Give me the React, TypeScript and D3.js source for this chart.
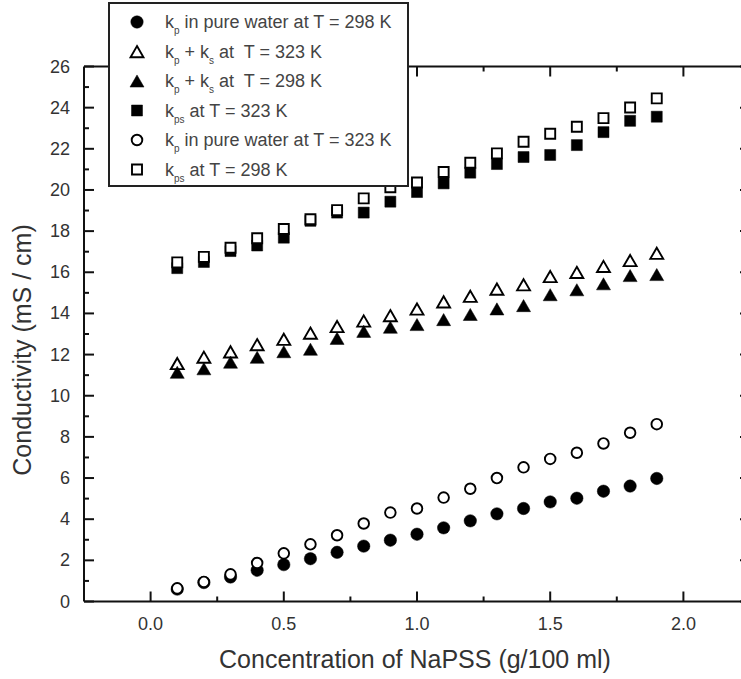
import React from "react";
import * as d3 from "d3";

const concentrations = [0.1, 0.2, 0.3, 0.4, 0.5, 0.6, 0.7, 0.8, 0.9, 1.0, 1.1, 1.2, 1.3, 1.4, 1.5, 1.6, 1.7, 1.8, 1.9];
const kpWater298 = [0.6, 0.92, 1.19, 1.52, 1.79, 2.08, 2.39, 2.69, 2.98, 3.27, 3.58, 3.92, 4.26, 4.52, 4.84, 5.02, 5.36, 5.61, 5.98];
const kpKs323 = [11.57, 11.88, 12.14, 12.49, 12.75, 13.05, 13.37, 13.64, 13.9, 14.22, 14.57, 14.84, 15.19, 15.4, 15.8, 16.0, 16.29, 16.58, 16.93];
const kpKs298 = [11.14, 11.31, 11.63, 11.87, 12.14, 12.26, 12.79, 13.13, 13.33, 13.46, 13.7, 13.95, 14.22, 14.38, 14.91, 15.15, 15.44, 15.84, 15.89];
const kps323 = [16.2, 16.5, 17.03, 17.3, 17.68, 18.5, 18.9, 18.9, 19.43, 19.9, 20.32, 20.84, 21.26, 21.6, 21.7, 22.18, 22.81, 23.36, 23.56];
const kpWater323 = [0.64, 0.95, 1.32, 1.87, 2.34, 2.78, 3.22, 3.79, 4.32, 4.52, 5.05, 5.48, 6.0, 6.52, 6.93, 7.23, 7.68, 8.2, 8.62];
const kps298 = [16.48, 16.75, 17.19, 17.65, 18.1, 18.58, 19.02, 19.59, 20.13, 20.36, 20.87, 21.32, 21.78, 22.34, 22.73, 23.07, 23.49, 24.01, 24.45];

const xMajorTicks = [0, 0.5, 1.0, 1.5, 2.0];
const xMinorTicks = [0.25, 0.75, 1.25, 1.75];
const yMajorTicks = [0, 2, 4, 6, 8, 10, 12, 14, 16, 18, 20, 22, 24, 26];
const yMinorTicks = [1, 3, 5, 7, 9, 11, 13, 15, 17, 19, 21, 23, 25];

type Shape = "circle" | "triangle" | "square";
interface SeriesDef { values: number[]; shape: Shape; filled: boolean; label: [string, string, string, string, string]; }
// label parts: main1, sub1, main2, sub2, rest
const series: SeriesDef[] = [
  { values: kpWater298, shape: "circle", filled: true, label: ["k", "p", " in pure water at T = 298 K", "", ""] },
  { values: kpKs323, shape: "triangle", filled: false, label: ["k", "p", " + k", "s", " at  T = 323 K"] },
  { values: kpKs298, shape: "triangle", filled: true, label: ["k", "p", " + k", "s", " at  T = 298 K"] },
  { values: kps323, shape: "square", filled: true, label: ["k", "ps", " at T = 323 K", "", ""] },
  { values: kpWater323, shape: "circle", filled: false, label: ["k", "p", " in pure water at T = 323 K", "", ""] },
  { values: kps298, shape: "square", filled: false, label: ["k", "ps", " at T = 298 K", "", ""] },
];

const W = 741, H = 679;
const x = d3.scaleLinear().domain([-0.25, 2.25]).range([84, 750]);
const y = d3.scaleLinear().domain([0, 26]).range([601.5, 66.5]);

const TRI_SIDE = 14;
const TRI_H = TRI_SIDE * Math.sqrt(3) / 2;
const symbolPath = (shape: Shape, filled: boolean) => {
  if (shape === "circle") return d3.symbol(d3.symbolCircle, Math.PI * (filled ? 6.2 : 5.3) ** 2)()!;
  if (shape === "square") return d3.symbol(d3.symbolSquare, filled ? 121 : 100)()!;
  return d3.symbol(d3.symbolTriangle, (Math.sqrt(3) / 4) * TRI_SIDE * TRI_SIDE * (filled ? 1 : 0.85))()!;
};

function Marker({ cx, cy, shape, filled }: { cx: number; cy: number; shape: Shape; filled: boolean }) {
  const dy = shape === "triangle" ? TRI_H / 6 : 0;
  return (
    <path
      d={symbolPath(shape, filled)}
      transform={`translate(${cx},${cy + dy})`}
      fill={filled ? "#000" : "#fff"}
      stroke="#000"
      strokeWidth={filled ? 0.5 : 1.9}
    />
  );
}

export default function App() {
  const font = "'Liberation Sans', Arial, sans-serif";
  const axisColor = "#111";
  const textColor = "#333";
  const legendRows = [22, 51.5, 81, 110.5, 140, 169.5];
  return (
    <svg width={W} height={H} style={{ position: "absolute", left: 0, top: 0, background: "#fff" }} fontFamily={font}>
      <rect x={0} y={0} width={W} height={H} fill="#fff" />
      {/* frame */}
      <g stroke={axisColor} strokeWidth={2} fill="none">
        <line x1={x(-0.25)} x2={x(2.25)} y1={y(0)} y2={y(0)} />
        <line x1={x(-0.25)} x2={x(2.25)} y1={y(26)} y2={y(26)} />
        <line x1={x(-0.25)} x2={x(-0.25)} y1={y(0)} y2={y(26)} />
        <line x1={x(2.25)} x2={x(2.25)} y1={y(0)} y2={y(26)} />
        {xMajorTicks.map((t) => (
          <g key={"xM" + t}>
            <line x1={x(t)} x2={x(t)} y1={y(0)} y2={y(0) - 10} />
            <line x1={x(t)} x2={x(t)} y1={y(26)} y2={y(26) + 10} />
          </g>
        ))}
        {xMinorTicks.map((t) => (
          <g key={"xm" + t}>
            <line x1={x(t)} x2={x(t)} y1={y(0)} y2={y(0) - 5} />
            <line x1={x(t)} x2={x(t)} y1={y(26)} y2={y(26) + 5} />
          </g>
        ))}
        {yMajorTicks.map((t) => (
          <g key={"yM" + t}>
            <line x1={x(-0.25)} x2={x(-0.25) + 10} y1={y(t)} y2={y(t)} />
            <line x1={x(2.25)} x2={x(2.25) - 10} y1={y(t)} y2={y(t)} />
          </g>
        ))}
        {yMinorTicks.map((t) => (
          <g key={"ym" + t}>
            <line x1={x(-0.25)} x2={x(-0.25) + 5} y1={y(t)} y2={y(t)} />
            <line x1={x(2.25)} x2={x(2.25) - 5} y1={y(t)} y2={y(t)} />
          </g>
        ))}
      </g>
      {/* tick labels */}
      <g fill={textColor} fontSize={18}>
        {xMajorTicks.map((t) => (
          <text key={"xl" + t} x={x(t)} y={630} textAnchor="middle">{d3.format(".1f")(t)}</text>
        ))}
        {yMajorTicks.map((t) => (
          <text key={"yl" + t} x={70} y={y(t)} textAnchor="end" dominantBaseline="central">{t}</text>
        ))}
      </g>
      {/* axis titles */}
      <text x={415} y={668} textAnchor="middle" fontSize={25} fill={textColor}>Concentration of NaPSS (g/100 ml)</text>
      <text transform={`translate(31,350) rotate(-90)`} textAnchor="middle" fontSize={25} fill={textColor}>Conductivity (mS / cm)</text>
      {/* data */}
      {series.map((s, si) => (
        <g key={"s" + si}>
          {s.values.map((v, i) => (
            <Marker key={i} cx={x(concentrations[i])} cy={y(v)} shape={s.shape} filled={s.filled} />
          ))}
        </g>
      ))}
      {/* legend */}
      <rect x={109} y={3} width={299} height={183} fill="#fff" stroke="#222" strokeWidth={2} />
      {series.map((s, i) => (
        <g key={"lg" + i}>
          <Marker cx={137} cy={legendRows[i]} shape={s.shape} filled={s.filled} />
          <text x={165} y={legendRows[i] + 6} fontSize={18} fill="#444" style={{ whiteSpace: "pre" }}>
            <tspan>{s.label[0]}</tspan>
            <tspan dy={6} fontSize={10}>{s.label[1]}</tspan>
            <tspan dy={-6}>{s.label[2]}</tspan>
            {s.label[3] ? (
              <>
                <tspan dy={6} fontSize={10}>{s.label[3]}</tspan>
                <tspan dy={-6}>{s.label[4]}</tspan>
              </>
            ) : null}
          </text>
        </g>
      ))}
    </svg>
  );
}
